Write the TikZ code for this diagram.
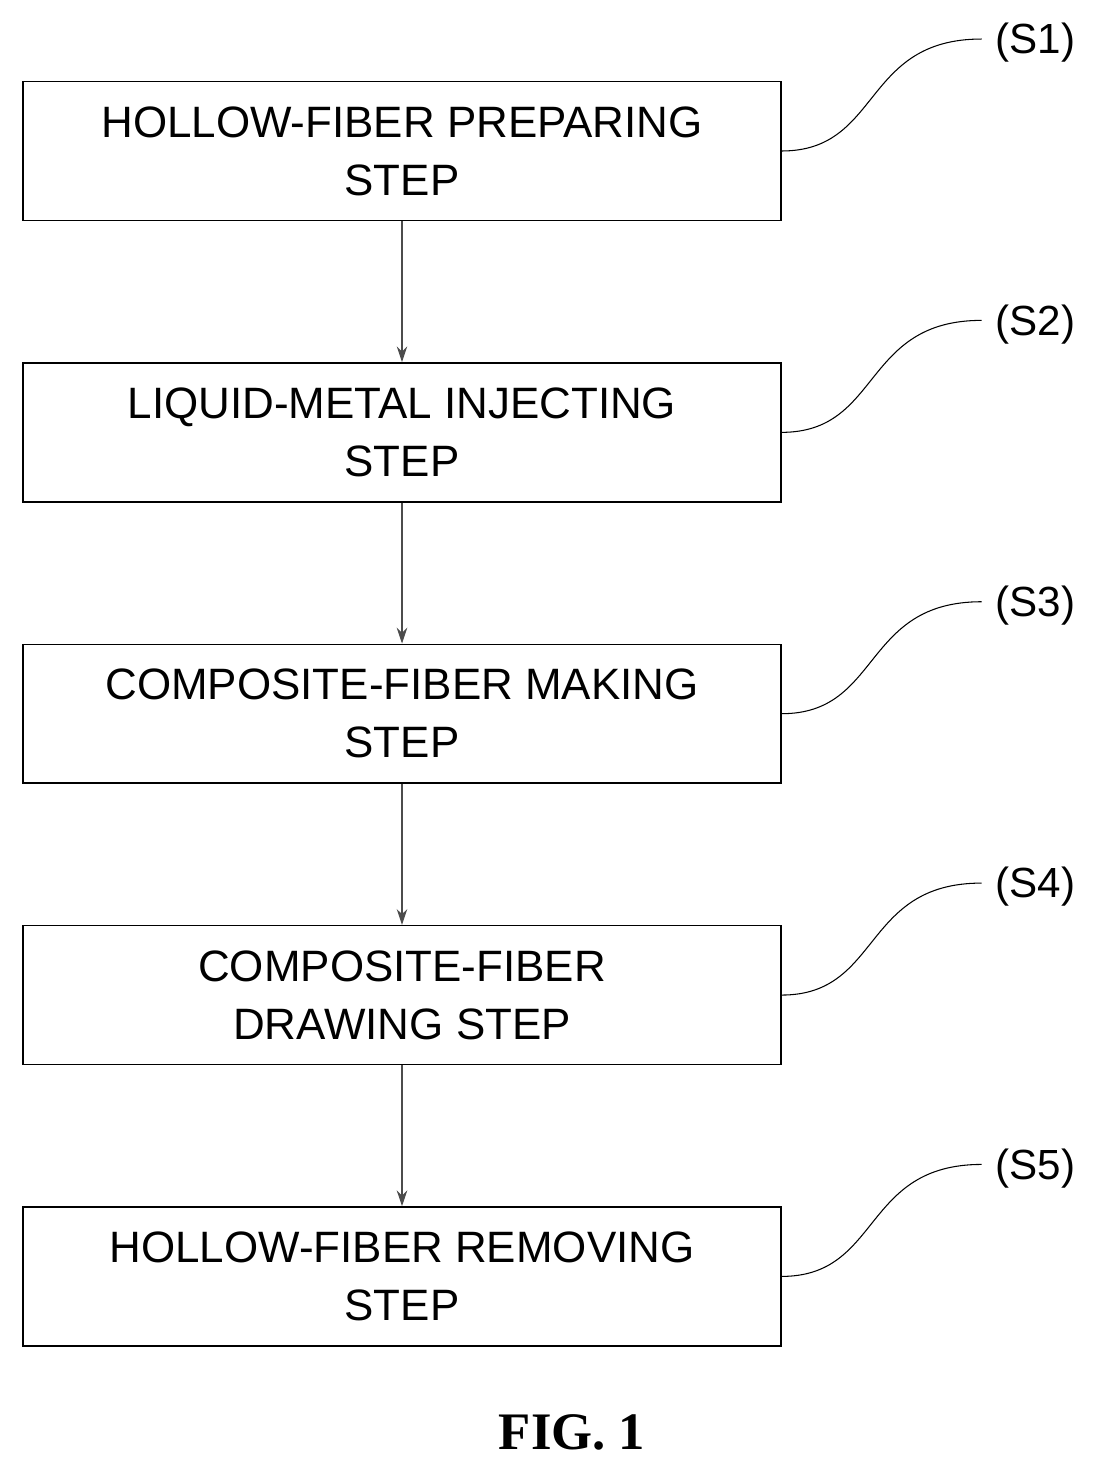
\documentclass[tikz,border=0pt]{standalone}
\usepackage{fontspec}
\setmainfont{Liberation Serif}
\setsansfont{Liberation Sans}
\usetikzlibrary{arrows.meta}
\usetikzlibrary{positioning}

\tikzset{
    stepbox/.style={draw,thick,minimum width=15.16cm,minimum height=2.78cm,align=center,
        font=\sffamily\fontsize{25}{33}\selectfont,inner sep=0pt},
    tag/.style={anchor=west,font=\sffamily\fontsize{24}{28}\selectfont},
    flow/.style={->,>={Stealth[length=9pt,width=6pt]},gray!60!black,semithick},
}

\begin{document}
\begin{tikzpicture}[x=0.02cm,y=-0.02cm,node distance=2.82cm]
    \useasboundingbox (0,0) rectangle (1111,1473);
    \node [stepbox] (1) at (402,151) {HOLLOW-FIBER PREPARING\\STEP};
    \node [stepbox] (2) [below=of 1] {LIQUID-METAL INJECTING\\STEP};
    \node [stepbox] (3) [below=of 2] {COMPOSITE-FIBER MAKING\\STEP};
    \node [stepbox] (4) [below=of 3] {COMPOSITE-FIBER\\DRAWING STEP};
    \node [stepbox] (5) [below=of 4] {HOLLOW-FIBER REMOVING\\STEP};
    \foreach \a/\b in {1/2,2/3,3/4,4/5}
        \draw [flow] (\a) -- (\b);
    \foreach \n in {1,...,5} {
        \coordinate (e\n) at ([xshift=4cm,yshift=2.24cm]\n.east);
        \draw [semithick] (\n.east) .. controls +(100,0) and +(-120,0) .. (e\n);
        \node [tag] (s\n) at ([xshift=0.16cm,yshift=-0.08cm]e\n) {(S\n)};
    }
    \node [font=\bfseries\fontsize{30}{36}\selectfont] (fig) at (572,1432) {FIG. 1};
\end{tikzpicture}
\end{document}
